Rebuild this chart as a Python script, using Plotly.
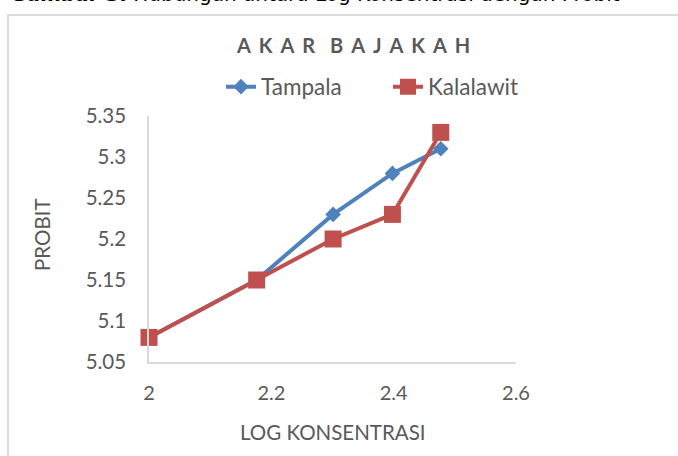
import plotly.graph_objects as go

log_konsentrasi = [2.0, 2.176, 2.301, 2.398, 2.477]
tampala = [5.08, 5.15, 5.23, 5.28, 5.31]
kalalawit = [5.08, 5.15, 5.20, 5.23, 5.33]

y_ticks = [5.05, 5.1, 5.15, 5.2, 5.25, 5.3, 5.35]
y_ticktext = ["5.05", "5.1", "5.15", "5.2", "5.25", "5.3", "5.35"]
x_ticks = [2.0, 2.2, 2.4, 2.6]
x_ticktext = ["2", "2.2", "2.4", "2.6"]

W, H = 678, 456
L, R, T, B = 149, 162, 116, 94
pw, ph = W - L - R, H - T - B

def px(x):
    return (x - L) / pw

def py(y):
    return (H - B - y) / ph

FONT = "Lato"
GRAY = "#595959"

fig = go.Figure()
fig.add_trace(go.Scatter(
    x=log_konsentrasi, y=tampala, name="Tampala", mode="lines+markers",
    line=dict(color="#4f81bd", width=4),
    marker=dict(symbol="diamond", size=12, color="#4f81bd"),
    cliponaxis=False,
))
fig.add_trace(go.Scatter(
    x=log_konsentrasi, y=kalalawit, name="Kalalawit", mode="lines+markers",
    line=dict(color="#c0504d", width=4),
    marker=dict(symbol="square", size=17, color="#c0504d"),
    cliponaxis=False,
))

sp = "\u2004\u200a"
title_text = sp.join("AKAR") + "\u2003" + sp.join("BAJAKAH")

fig.update_layout(
    width=W, height=H,
    margin=dict(l=L, r=R, t=T, b=B, pad=0),
    paper_bgcolor="white", plot_bgcolor="white",
    font=dict(family=FONT, size=20, color=GRAY),
    showlegend=True,
    legend=dict(orientation="h", x=px(221), y=py(87), xanchor="left", yanchor="middle",
                font=dict(family=FONT, size=22.5, color=GRAY),
                entrywidth=122, entrywidthmode="pixels",
                bgcolor="rgba(0,0,0,0)"),
    xaxis=dict(range=[2.0, 2.6], tickvals=x_ticks, ticktext=x_ticktext,
               showgrid=False, zeroline=False, showline=True, linecolor="#d9d9d9",
               linewidth=1.5, ticks="", ticklabelstandoff=12,
               tickfont=dict(family=FONT, size=20, color=GRAY)),
    yaxis=dict(range=[5.05, 5.35], tickvals=y_ticks, ticktext=y_ticktext,
               showgrid=False, zeroline=False, showline=True, linecolor="#d9d9d9",
               linewidth=1.5, ticks="", ticklabelstandoff=17,
               tickfont=dict(family=FONT, size=20.5, color=GRAY)),
    shapes=[dict(type="rect", xref="paper", yref="paper",
                 x0=px(8), x1=px(700), y0=py(480), y1=py(15),
                 line=dict(color="#d0d0d0", width=1.5), layer="below")],
    annotations=[
        dict(text=title_text,
             xref="paper", yref="paper", x=px(353), y=py(45),
             xanchor="center", yanchor="middle", showarrow=False,
             font=dict(family=FONT, size=20, color=GRAY, weight="bold")),
        dict(text="PROBIT", xref="paper", yref="paper", x=px(42), y=py(235),
             xanchor="center", yanchor="middle", showarrow=False, textangle=-90,
             font=dict(family=FONT, size=20.5, color=GRAY)),
        dict(text="LOG KONSENTRASI", xref="paper", yref="paper", x=px(333), y=py(432),
             xanchor="center", yanchor="middle", showarrow=False,
             font=dict(family=FONT, size=20.5, color=GRAY)),
        dict(text="<b>Gambar 3.</b> Hubungan antara Log Konsentrasi dengan Probit",
             xref="paper", yref="paper", x=px(8), y=py(-6),
             xanchor="left", yanchor="middle", showarrow=False,
             font=dict(family="DejaVu Sans", size=20, color="black")),
    ],
)

fig.write_html("out.html", config={"displayModeBar": False},
               post_script="document.body.style.margin='0';")
